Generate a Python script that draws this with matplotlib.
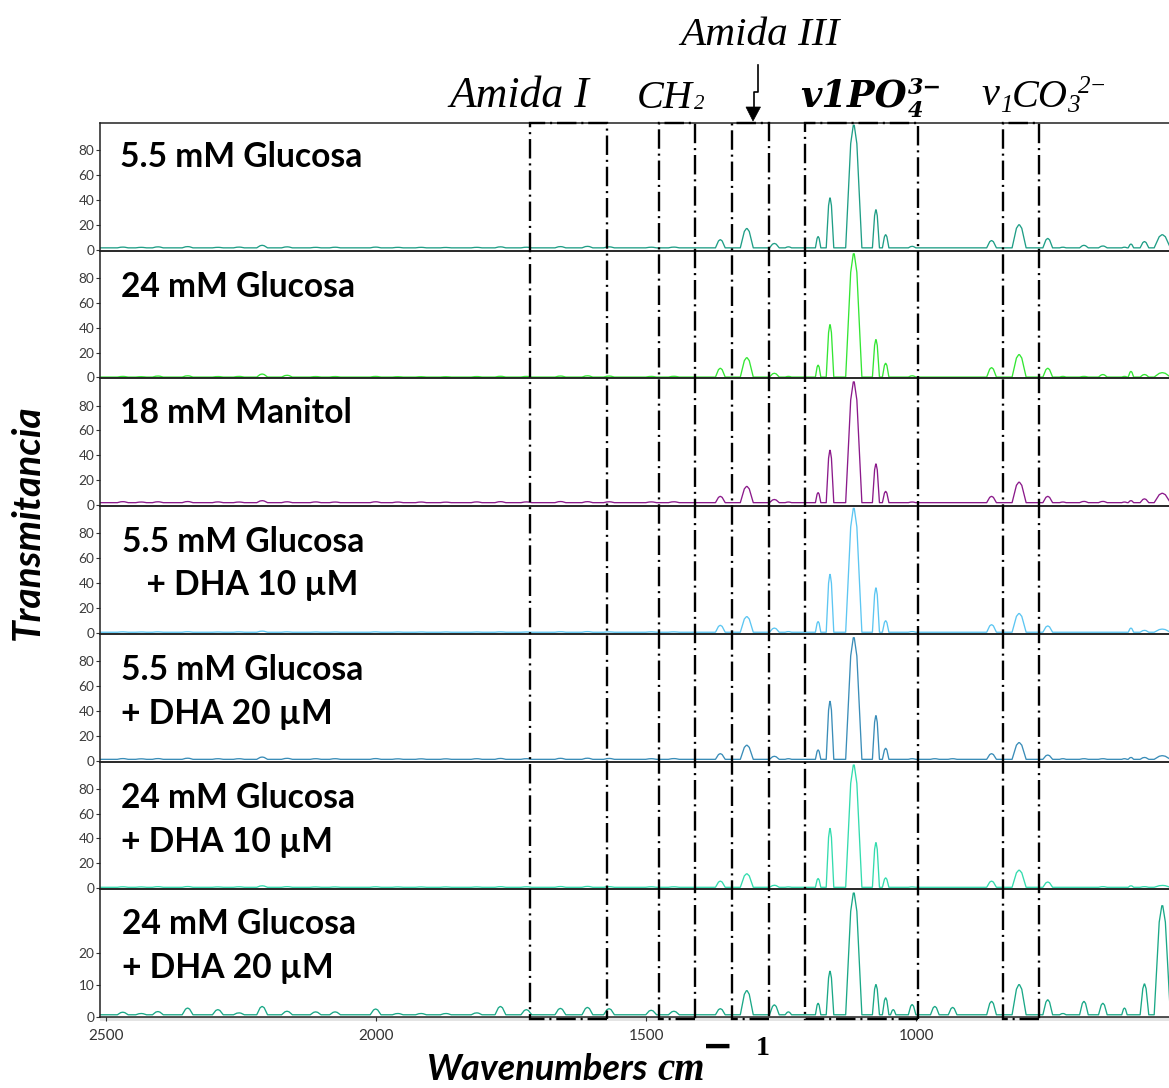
import numpy as np
import matplotlib
matplotlib.use('Agg')
import matplotlib.pyplot as plt
from matplotlib.lines import Line2D
from matplotlib.patches import Polygon, Rectangle
import matplotlib.transforms as mtransforms

plt.rcParams['lines.scale_dashes'] = False

W, H = 1169, 1088

# ---------------- data ----------------
panel_labels = [
    ["5.5 mM Glucosa"],
    ["24 mM Glucosa"],
    ["18 mM Manitol"],
    ["5.5 mM Glucosa", "   + DHA 10 µM"],
    ["5.5 mM Glucosa", "+ DHA 20 µM"],
    ["24 mM Glucosa", "+ DHA 10 µM"],
    ["24 mM Glucosa", "+ DHA 20 µM"],
]
colors = ['#1f9e86', '#33e633', '#8b1a8b', '#5cc6f2', '#3a8db8', '#33dcae', '#1aa887']
baselines = [1.5, 0.3, 2.0, 0.5, 1.0, 0.8, 0.6]

# main bands (cm-1), half width at base (cm-1)
peak_wn = [1363, 1314, 1263, 1237, 1182, 1160, 1116, 1075, 1057, 1043, 1008, 966, 933,
           861, 810, 757, 729, 690, 655, 615, 603, 578, 545]
peak_hw = [9, 12, 9, 6, 5, 7, 15, 6.5, 6, 5, 7, 8, 8,
           9, 13, 9, 6, 8, 8, 5, 5, 8, 15]
heights_1 = [6.5, 15.5, 3.5, 0.8, 9.0, 40.0, 98.5, 30.5, 10.5, 0, 1.2, 0, 0,
             5.8, 18.5, 7.5, 0.5, 2.0, 1.5, 0.5, 3.0, 5.0, 10.5]
heights_2 = [7.0, 15.5, 3.0, 0.5, 9.5, 42.0, 99.0, 30.0, 11.0, 0, 1.0, 0, 0,
             7.5, 18.0, 7.0, 0.5, 0.5, 2.0, 0.5, 4.5, 2.0, 3.5]
heights_3 = [5.0, 13.0, 2.5, 0.5, 8.0, 42.0, 97.0, 31.0, 9.0, 0, 0.5, 0, 0,
             5.0, 16.4, 5.0, 0.5, 1.0, 1.0, 0.5, 1.6, 3.0, 7.5]
heights_4 = [5.5, 12.5, 3.3, 0.5, 8.5, 46.4, 99.5, 35.5, 9.2, 0, 0.5, 0, 0,
             6.0, 15.0, 5.0, 0, 0, 0, 0, 3.3, 1.5, 2.5]
heights_5 = [4.5, 11.3, 2.4, 0.5, 7.5, 46.5, 97.7, 35.0, 8.8, 0, 0.5, 0.5, 0.5,
             4.5, 13.4, 3.4, 0.5, 0.5, 0.5, 0.5, 1.5, 1.5, 2.9]
heights_6 = [4.9, 10.8, 1.6, 0.3, 7.0, 47.2, 98.2, 35.8, 7.5, 0, 0.3, 0, 0,
             4.9, 13.7, 4.2, 0, 0, 0.5, 0, 1.2, 0.5, 1.5]
heights_7 = [1.9, 7.6, 3.1, 0.9, 3.6, 13.7, 38.4, 9.5, 5.3, 1.6, 3.2, 2.6, 2.3,
             4.2, 9.5, 4.7, 0.4, 4.2, 3.6, 2.1, 0, 9.7, 34.4]

# small baseline bands
minor_wn = [2469, 2435, 2404, 2349, 2293, 2254, 2211, 2165, 2112, 2076, 2001, 1960,
            1917, 1871, 1814, 1770, 1722, 1659, 1609, 1569, 1491, 1449]
minor_hw = 10
minor_1 = [0.6, 0.4, 0.8, 1.0, 0.4, 0.6, 2.0, 0.8, 0.4, 0.5, 0.6, 0.4, 0.4, 0.3, 0.4, 0.8, 0.5, 1.0, 1.2, 0.8, 0.5, 0.6]
minor_2 = [0.5, 0.3, 0.8, 1.0, 0.4, 0.5, 2.4, 1.4, 0.4, 0.4, 0.5, 0.3, 0.3, 0.3, 0.4, 0.6, 0.5, 0.8, 1.0, 0.8, 0.5, 0.6]
minor_3 = [0.8, 0.5, 0.7, 0.9, 0.6, 0.5, 1.6, 0.7, 0.6, 0.5, 0.7, 0.5, 0.5, 0.4, 0.6, 0.8, 0.6, 0.9, 0.8, 0.7, 0.6, 0.7]
minor_4 = [0.3, 0.2, 0.3, 0.4, 0.2, 0.3, 0.9, 0.3, 0.2, 0.2, 0.3, 0.2, 0.2, 0.2, 0.2, 0.3, 0.2, 0.4, 0.5, 0.3, 0.3, 0.3]
minor_5 = [0.6, 0.4, 0.6, 0.9, 0.5, 0.5, 1.8, 0.8, 0.5, 0.5, 0.6, 0.4, 0.4, 0.4, 0.5, 0.7, 0.5, 0.8, 0.9, 0.7, 0.5, 0.6]
minor_6 = [0.4, 0.3, 0.5, 0.6, 0.3, 0.4, 1.2, 0.5, 0.3, 0.3, 0.4, 0.3, 0.3, 0.3, 0.3, 0.5, 0.4, 0.6, 0.7, 0.5, 0.4, 0.4]
minor_7 = [0.8, 0.4, 1.0, 2.1, 1.6, 0.6, 2.6, 1.1, 0.9, 0.9, 1.8, 0.4, 0.4, 0.4, 0.6, 2.6, 1.6, 2.0, 2.3, 1.9, 1.4, 1.1]

major_heights = [heights_1, heights_2, heights_3, heights_4, heights_5, heights_6, heights_7]
minor_heights = [minor_1, minor_2, minor_3, minor_4, minor_5, minor_6, minor_7]

# band profile: width fraction at a given height fraction
profile_height = [0.0, 0.5, 0.85, 1.0]
profile_width = [1.0, 0.64, 0.38, 0.06]

# band regions (cm-1)
band_names = ["Amida I", "CH2", "Amida III", "PO4", "CO3"]
band_left = [1715, 1476.5, 1341, 1206, 840]
band_right = [1573, 1410, 1273, 998, 773]

yticks_main = [0, 20, 40, 60, 80]
yticks_last = [0, 10, 20]
xticks = [2500, 2000, 1500, 1000]
wn_start, wn_end = 2515, 500


def add_band(pts, c, hw, h, base):
    for fh, fw in zip(profile_height, profile_width):
        pts.append((c + hw * fw, base + h * fh))
        pts.append((c - hw * fw, base + h * fh))


def spectrum_vertices(base, heights, minors):
    pts = []
    for c, hw, h in zip(peak_wn, peak_hw, heights):
        if h > 0:
            add_band(pts, c, hw, h, base)
    for c, h in zip(minor_wn, minors):
        if h > 0:
            add_band(pts, c, minor_hw, h, base)
    pts.append((wn_start, base)); pts.append((wn_end, base))
    pts.sort(key=lambda p: -p[0])
    xs = [p[0] for p in pts]
    ys = [p[1] for p in pts]
    return xs, ys


def fx(px):
    return px / W


def fy(py):
    return 1 - py / H


fig = plt.figure(figsize=(W / 100, H / 100), dpi=100)

left_px, right_px = 100, 1185
top_px, bottom_px = 123, 1017
n = 7
ph = (bottom_px - top_px) / n
xl_left = 2500 + (106 - left_px) / 0.5403
xl_right = 2500 - (right_px - 106) / 0.5403

axes = []
for i in range(n):
    t = top_px + i * ph
    ax = fig.add_axes([fx(left_px), fy(t + ph), fx(right_px) - fx(left_px), ph / H])
    xs, ys = spectrum_vertices(baselines[i], major_heights[i], minor_heights[i])
    ax.plot(xs, ys, color=colors[i], lw=0.95)
    ax.set_xlim(xl_left, xl_right)
    if i < n - 1:
        ax.set_ylim(-0.8, 101.8)
        ax.set_yticks(yticks_main)
        ax.set_xticks([])
    else:
        ax.set_ylim(-0.1, 40.2)
        ax.set_yticks(yticks_last)
        ax.set_xticks(xticks)
        ax.set_xticklabels([str(v) for v in xticks], fontsize=11, color='#333333', family='Lato')
        ax.tick_params(axis='x', length=3, width=0.8, color='#333333', pad=6)
    ax.set_yticklabels([str(v) for v in ax.get_yticks().astype(int)], fontsize=9.8,
                       color='#3a3a3a', family='Lato')
    ax.tick_params(axis='y', length=3, width=0.8, color='#333333', pad=1)
    for s in ['left', 'top', 'bottom']:
        ax.spines[s].set_color('#222222')
        ax.spines[s].set_linewidth(1.1)
    ax.spines['right'].set_visible(False)
    ax.patch.set_alpha(0)
    axes.append(ax)

# gray strip below bottom axis
fig.add_artist(Rectangle((fx(100), fy(1020.5)), fx(1169) - fx(100), 3.5 / H,
                         transform=fig.transFigure, facecolor='#e4e4e4', edgecolor='none', zorder=0))

# band boxes
trans = mtransforms.blended_transform_factory(axes[-1].transData, fig.transFigure)
for l, r in zip(band_left, band_right):
    rect = Rectangle((r, fy(1018.5)), l - r, (1018.5 - 123) / H, transform=trans,
                     fill=False, edgecolor='black', linewidth=1.7,
                     linestyle=(0, (14, 3.5, 1.5, 3.5)), clip_on=False, zorder=10)
    fig.add_artist(rect)

# panel labels
label_font = dict(family='Lato', weight='bold', fontsize=24.2, color='black')
label_pos = [
    [(120, 167)],
    [(121, 297)],
    [(120, 423.5)],
    [(121.5, 552), (121.5, 595)],
    [(121, 680), (121, 723.5)],
    [(121, 808), (121, 851.5)],
    [(122.5, 933.5), (122.5, 978.5)],
]
for lines, poss in zip(panel_labels, label_pos):
    for txt, (px, py) in zip(lines, poss):
        fig.text(fx(px), fy(py), txt, ha='left', va='baseline', **label_font)

# axis titles
fig.text(fx(27), fy(522), 'Transmitancia', rotation=90, ha='center', va='center',
         family='Lato', weight='bold', style='italic', fontsize=28)
fig.text(fx(427), fy(1080), 'Wavenumbers', ha='left', va='baseline',
         family='Lato', weight='bold', style='italic', fontsize=26)
fig.text(fx(657), fy(1080), 'cm', ha='left', va='baseline',
         family='Liberation Serif', weight='bold', style='italic', fontsize=28)
fig.text(fx(702), fy(1058), '−', ha='left', va='baseline',
         family='DejaVu Sans', weight='bold', fontsize=27)
fig.text(fx(756), fy(1055), '1', ha='left', va='baseline',
         family='Liberation Serif', weight='bold', fontsize=20)

# band annotations
serif_it = dict(family='Liberation Serif', style='italic', color='black')
fig.text(fx(519.5), fy(107), 'Amida I', ha='center', va='baseline', fontsize=31.5, **serif_it)
fig.text(fx(760), fy(45), 'Amida III', ha='center', va='baseline', fontsize=29.7, **serif_it)
fig.text(fx(637), fy(108.5), 'CH', ha='left', va='baseline', fontsize=29, **serif_it)
fig.text(fx(694), fy(109), '2', ha='left', va='baseline', fontsize=15, **serif_it)

bold_it = dict(family='DejaVu Serif', weight='bold', style='italic', color='black')
fig.text(fx(800), fy(106.5), 'v1PO', ha='left', va='baseline', fontsize=26.5, **bold_it)
fig.text(fx(908), fy(94), '3−', ha='left', va='baseline', fontsize=16, **bold_it)
fig.text(fx(908), fy(117), '4', ha='left', va='baseline', fontsize=16, **bold_it)

fig.text(fx(981), fy(105), 'ν', ha='left', va='baseline', fontsize=29, **serif_it)
fig.text(fx(1000), fy(112), '1', ha='left', va='baseline', fontsize=18, **serif_it)
fig.text(fx(1012), fy(107), 'CO', ha='left', va='baseline', fontsize=29, **serif_it)
fig.text(fx(1067), fy(112), '3', ha='left', va='baseline', fontsize=18, **serif_it)
fig.text(fx(1078), fy(93), '2−', ha='left', va='baseline', fontsize=18, **serif_it)

# Amida III arrow
arrow_line = Line2D([fx(757.8), fx(757.8), fx(753.5), fx(753.5)],
                    [fy(65), fy(92), fy(92), fy(108)], transform=fig.transFigure,
                    color='black', lw=1.2)
fig.add_artist(arrow_line)
fig.add_artist(Polygon([[fx(746), fy(107)], [fx(760.5), fy(107)], [fx(753), fy(121)]],
                       closed=True, transform=fig.transFigure, facecolor='black',
                       edgecolor='black', lw=0.5))

fig.savefig('out.png', dpi=100)
